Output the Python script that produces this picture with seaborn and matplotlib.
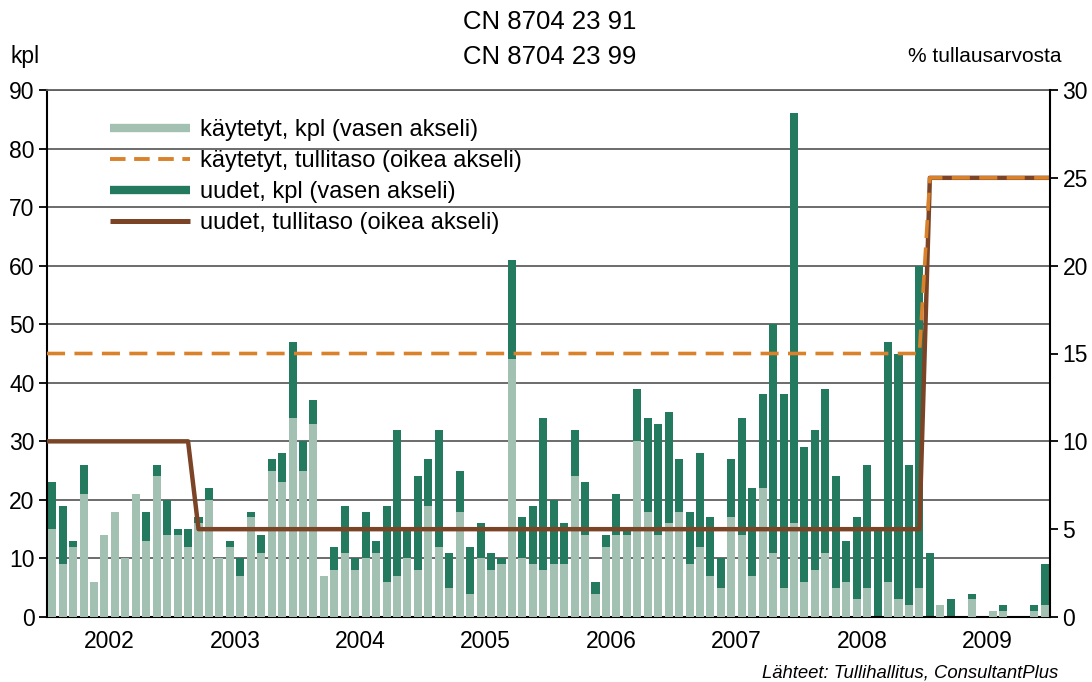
import numpy as np
import pandas as pd
import matplotlib
matplotlib.use("Agg")
import matplotlib.pyplot as plt
from matplotlib.lines import Line2D
import seaborn as sns

# monthly data 2002-2009, kpl
years = ["2002", "2003", "2004", "2005", "2006", "2007", "2008", "2009"]

kaytetyt = [15, 9, 12, 21, 6, 14, 18, 10, 21, 13, 24, 14,
            14, 12, 16, 20, 10, 12, 7, 17, 11, 25, 23, 34,
            25, 33, 7, 8, 11, 8, 10, 11, 6, 7, 10, 8,
            19, 12, 5, 18, 4, 10, 8, 9, 44, 10, 9, 8,
            9, 9, 24, 14, 4, 12, 14, 14, 30, 18, 14, 16,
            18, 9, 12, 7, 5, 17, 14, 7, 22, 11, 5, 16,
            6, 8, 11, 5, 6, 3, 5, 0, 6, 3, 2, 5,
            0, 2, 0, 0, 3, 0, 1, 1, 0, 0, 1, 2]

uudet = [8, 10, 1, 5, 0, 0, 0, 0, 0, 5, 2, 6,
         1, 3, 1, 2, 0, 1, 3, 1, 3, 2, 5, 13,
         5, 4, 0, 4, 8, 2, 8, 2, 13, 25, 5, 16,
         8, 20, 6, 7, 8, 6, 3, 1, 17, 7, 10, 26,
         11, 7, 8, 9, 2, 2, 7, 1, 9, 16, 19, 19,
         9, 9, 16, 10, 5, 10, 20, 15, 16, 39, 33, 70,
         23, 24, 28, 19, 7, 14, 21, 15, 41, 42, 24, 55,
         11, 0, 3, 0, 1, 0, 0, 1, 0, 0, 1, 7]

# tariff levels, % of customs value
tulli_kaytetyt = [15] * 84 + [25] * 12
tulli_uudet = [10] * 14 + [5] * 70 + [25] * 12

LIGHT = "#a3c1b2"
DARK = "#237a5e"
ORANGE = "#d9822b"
BROWN = "#7b4426"

sns.set_style("white")
plt.rcParams["font.family"] = ["Liberation Sans", "DejaVu Sans"]
plt.rcParams.update({"text.color": "black", "xtick.color": "black",
                     "ytick.color": "black"})

n = len(kaytetyt)
df = pd.DataFrame({
    "month": np.arange(n),
    "light": kaytetyt,
    "total": np.array(kaytetyt) + np.array(uudet),
})

fig = plt.figure(figsize=(10.92, 6.82), dpi=100)
ax = fig.add_axes([47 / 1092, 1 - 617 / 682, (1050 - 47) / 1092, (617 - 90) / 682])

# stacked bars: totals in dark, used cars over them in light
sns.barplot(data=df, x="month", y="total", color=DARK, saturation=1,
            width=0.77, ax=ax, zorder=2, linewidth=0)
sns.barplot(data=df, x="month", y="light", color=LIGHT, saturation=1,
            width=0.77, ax=ax, zorder=3, linewidth=0)

ax.set_xlim(-0.5, n - 0.5)
ax.set_ylim(0, 90)
ax.set_yticks(range(0, 91, 10))
ax.yaxis.grid(True, color="#606060", linewidth=1.3, zorder=0)
ax.set_axisbelow(True)
ax.set_xlabel("")
ax.set_ylabel("")

year_centers = np.arange(len(years)) * 12 + 5.5
ax.set_xticks(year_centers)
ax.set_xticklabels(years, fontsize=16.5)
ax.set_xticks(np.arange(len(years) + 1) * 12 - 0.5, minor=True)
ax.tick_params(axis="x", which="major", length=0, pad=9)
ax.tick_params(axis="x", which="minor", length=6, width=1.3, color="black", direction="out")
ax.tick_params(axis="y", length=6, width=1.3, color="black", direction="out",
               labelsize=16.5, left=True, pad=3)

for s in ["left", "bottom"]:
    ax.spines[s].set_color("black")
    ax.spines[s].set_linewidth(1.5)
ax.spines["top"].set_color("#606060")
ax.spines["top"].set_linewidth(1.3)
ax.spines["right"].set_visible(False)

# tariff lines on the right axis
ax2 = ax.twinx()
xs = np.r_[-0.5, df["month"], n - 0.5]
yu = np.r_[tulli_uudet[0], tulli_uudet, tulli_uudet[-1]]
yk = np.r_[tulli_kaytetyt[0], tulli_kaytetyt, tulli_kaytetyt[-1]]
sns.lineplot(x=xs, y=yu, ax=ax2, color=BROWN, linewidth=3.2, sort=False)
sns.lineplot(x=xs, y=yk, ax=ax2, color=ORANGE, linewidth=2.6, sort=False)
ax2.lines[-1].set_dashes((5, 2.6))
ax2.set_ylim(0, 30)
ax2.set_yticks(range(0, 31, 5))
ax2.set_xlim(-0.5, n - 0.5)
ax2.tick_params(axis="y", length=6, width=1.3, color="black", direction="out",
                labelsize=16.5, right=True, pad=3)
for s in ["left", "top", "bottom"]:
    ax2.spines[s].set_visible(False)
ax2.spines["right"].set_color("black")
ax2.spines["right"].set_linewidth(1.5)
ax2.grid(False)

handles = [
    Line2D([], [], color=LIGHT, linewidth=6, solid_capstyle="butt"),
    Line2D([], [], color=ORANGE, linewidth=2.8, dashes=(4, 2.2), dash_capstyle="butt"),
    Line2D([], [], color=DARK, linewidth=6, solid_capstyle="butt"),
    Line2D([], [], color=BROWN, linewidth=3.6, solid_capstyle="butt"),
]
labels = [
    "käytetyt, kpl (vasen akseli)",
    "käytetyt, tullitaso (oikea akseli)",
    "uudet, kpl (vasen akseli)",
    "uudet, tullitaso (oikea akseli)",
]
leg = ax2.legend(handles, labels, loc="upper left",
                 bbox_to_anchor=(110 / 1092, 1 - 119 / 682),
                 bbox_transform=fig.transFigure, frameon=False,
                 fontsize=17, handlelength=3.4, handletextpad=0.42,
                 labelspacing=0.38, borderpad=0, borderaxespad=0)

fig.text(550 / 1092, 1 - 22 / 682, "CN 8704 23 91", ha="center", va="center", fontsize=18.5)
fig.text(550 / 1092, 1 - 57 / 682, "CN 8704 23 99", ha="center", va="center", fontsize=18.5)
fig.text(10 / 1092, 1 - 57 / 682, "kpl", ha="left", va="center", fontsize=16.5)
fig.text(1062 / 1092, 1 - 57 / 682, "% tullausarvosta", ha="right", va="center", fontsize=15)
fig.text(1058 / 1092, 1 - 673 / 682, "Lähteet: Tullihallitus, ConsultantPlus",
         ha="right", va="center", fontsize=13.3, style="italic")

fig.savefig("out.png", dpi=100)
